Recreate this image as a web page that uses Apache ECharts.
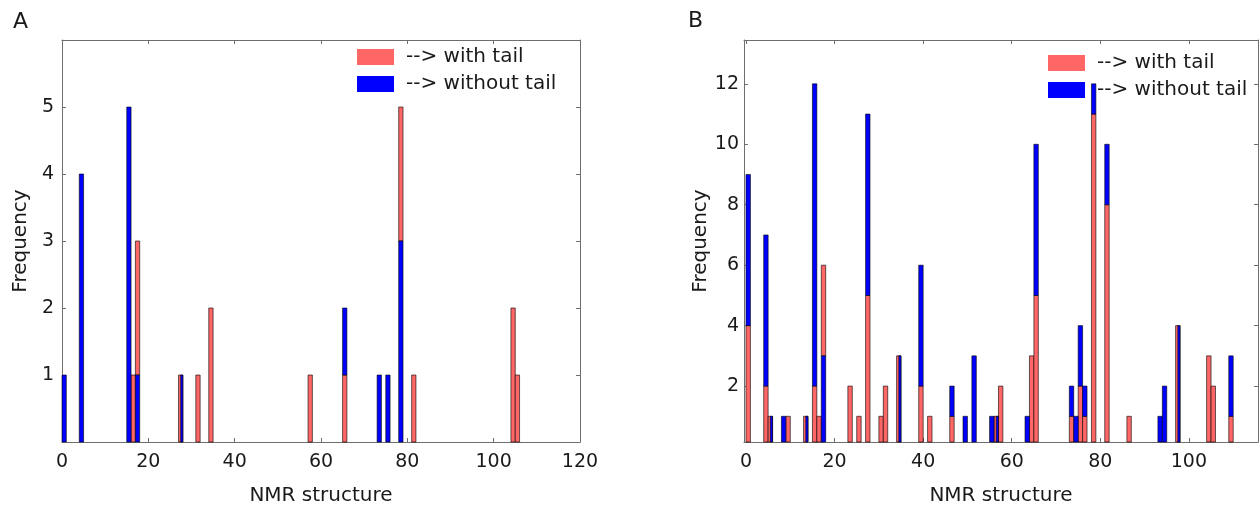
<!DOCTYPE html>
<html>
<head>
<meta charset="utf-8">
<script src="https://cdn.jsdelivr.net/npm/echarts@6/dist/echarts.min.js"></script>
<style>
  html, body { margin: 0; padding: 0; background: #fff; }
  #chart { width: 1260px; height: 506px; }
</style>
</head>
<body>
<div id="chart"></div>
<script>
// ---- Panel A: unit-wide bins (left edge) and counts ----
const binsA        = [0, 4, 15, 16, 17, 27, 31, 34, 57, 65, 73, 75, 78, 81, 104, 105];
const withTailA    = [0, 0, 0,  1,  2,  1,  1,  2,  1,  1,  0,  0,  2,  1,  2,   1];
const withoutTailA = [1, 4, 5,  0,  1,  1,  0,  0,  0,  1,  1,  1,  3,  0,  0,   0];
// how the two counts share a bin: 'rb' = with-tail below, 'br' = without-tail below,
// 'ov' = both drawn from zero, overlaid
const layoutA      = ['rb','rb','rb','rb','br','ov','rb','rb','rb','rb','rb','rb','br','rb','rb','rb'];

// ---- Panel B ----
const binsB        = [0, 4, 5, 8, 9, 13, 15, 16, 17, 23, 25, 27, 30, 31, 34, 39, 41, 46, 49, 51,
                      55, 56, 57, 63, 64, 65, 73, 74, 75, 76, 78, 81, 86, 93, 94, 97, 104, 105, 109];
const withTailB    = [4, 2, 1, 0, 1, 1,  2,  1,  3,  2,  1,  5,  1,  2,  3,  2,  1,  1,  0,  0,
                      0,  1,  2,  0,  3,  5,  1,  0,  2,  1, 11,  8,  1,  0,  0,  4,  3,   2,   1];
const withoutTailB = [5, 5, 1, 1, 0, 1, 10,  0,  3,  0,  0,  6,  0,  0,  3,  4,  0,  1,  1,  3,
                      1,  1,  0,  1,  0,  5,  1,  1,  2,  1,  1,  2,  0,  1,  2,  4,  0,   0,   2];
const layoutB      = ['rb','rb','ov','rb','rb','ov','rb','rb','br','rb','rb','rb','rb','rb','ov','rb','rb','rb','rb','rb',
                      'rb','ov','rb','rb','rb','rb','rb','rb','rb','rb','rb','rb','rb','rb','rb','ov','rb','rb','rb'];

// ---- tick values ----
const xTicksA = [0, 20, 40, 60, 80, 100, 120];
const yTicksA = [1, 2, 3, 4, 5];
const xTicksB = [0, 20, 40, 60, 80, 100];
const yTicksB = [2, 4, 6, 8, 10, 12];

const RED = '#ff6666';
const BLUE = '#0000ff';
const EDGE = 'rgba(0,0,0,0.6)';
const AXIS = '#6e6e6e';
const INK = '#1a1a1a';
const FONT = 'DejaVu Sans';

// Turn bin counts into rectangles [x0, x1, lo, hi, stripe] for each colour
function buildSegments(bins, red, blue, layout) {
  const r = [], b = [];
  bins.forEach(function (x, i) {
    const rv = red[i], bv = blue[i], mode = layout[i];
    if (mode === 'ov') {
      if (rv > 0) r.push([x, x + 1, 0, rv, 0]);
      if (bv > 0) b.push([x, x + 1, 0, bv, 1]);
    } else if (mode === 'br') {
      if (bv > 0) b.push([x, x + 1, 0, bv, 0]);
      if (rv > 0) r.push([x, x + 1, bv, bv + rv, 0]);
    } else {
      if (rv > 0) r.push([x, x + 1, 0, rv, 0]);
      if (bv > 0) b.push([x, x + 1, rv, rv + bv, 0]);
    }
  });
  return { red: r, blue: b };
}

const segA = buildSegments(binsA, withTailA, withoutTailA, layoutA);
const segB = buildSegments(binsB, withTailB, withoutTailB, layoutB);

function renderBar(color) {
  return function (params, api) {
    let x0 = api.value(0);
    const x1 = api.value(1);
    // overlaid bins show the second histogram in the right half of the bin
    if (api.value(4) === 1) x0 = x0 + (x1 - x0) * 0.5;
    const p0 = api.coord([x0, api.value(2)]);
    const p1 = api.coord([x1, api.value(3)]);
    const cs = params.coordSys;
    const shape = echarts.graphic.clipRectByRect(
      { x: p0[0], y: p1[1], width: p1[0] - p0[0], height: p0[1] - p1[1] },
      { x: cs.x, y: cs.y, width: cs.width, height: cs.height }
    );
    if (!shape) return null;
    return {
      type: 'rect',
      shape: shape,
      style: { fill: color, stroke: EDGE, lineWidth: 1 }
    };
  };
}

function barSeries(name, color, data, axisIdx) {
  return {
    type: 'custom',
    name: name,
    xAxisIndex: axisIdx,
    yAxisIndex: axisIdx,
    itemStyle: { color: color },
    encode: { x: [0, 1], y: [2, 3] },
    renderItem: renderBar(color),
    data: data,
    silent: true,
    animation: false
  };
}

function xAxisPair(grid, min, max, ticks) {
  const common = {
    gridIndex: grid, type: 'value', min: min, max: max,
    axisLine: { show: true, onZero: false, lineStyle: { color: AXIS, width: 1 } },
    axisTick: { show: true, inside: true, length: 4, customValues: ticks, lineStyle: { color: AXIS } },
    splitLine: { show: false }
  };
  return [
    Object.assign({}, common, {
      position: 'bottom',
      axisLabel: { customValues: ticks, fontSize: 19, margin: 11, color: INK, fontFamily: FONT },
      name: 'NMR structure', nameLocation: 'middle', nameGap: 44,
      nameTextStyle: { fontSize: 20, color: INK, fontFamily: FONT }
    }),
    Object.assign({}, common, { position: 'top', axisLabel: { show: false } })
  ];
}

function yAxisPair(grid, min, max, ticks, labelMargin, nameGap) {
  const common = {
    gridIndex: grid, type: 'value', min: min, max: max,
    axisLine: { show: true, onZero: false, lineStyle: { color: AXIS, width: 1 } },
    axisTick: { show: true, inside: true, length: 4, customValues: ticks, lineStyle: { color: AXIS } },
    splitLine: { show: false }
  };
  return [
    Object.assign({}, common, {
      position: 'left',
      axisLabel: { customValues: ticks, fontSize: 19, margin: labelMargin, color: INK, fontFamily: FONT },
      name: 'Frequency', nameLocation: 'middle', nameGap: nameGap, nameRotate: 90,
      nameTextStyle: { fontSize: 20, color: INK, fontFamily: FONT }
    }),
    Object.assign({}, common, { position: 'right', axisLabel: { show: false } })
  ];
}

function legendAt(left, top) {
  return {
    left: left, top: top, orient: 'vertical', icon: 'rect', padding: 0,
    itemWidth: 37, itemHeight: 16, itemGap: 7, selectedMode: false,
    formatter: function (n) { return '--> ' + n; },
    textStyle: { fontSize: 20, lineHeight: 20, color: INK, fontFamily: FONT, padding: [0, 0, 0, 7] },
    data: [
      { name: 'with tail', itemStyle: { color: RED, borderWidth: 0 } },
      { name: 'without tail', itemStyle: { color: BLUE, borderWidth: 0 } }
    ]
  };
}

const chart = echarts.init(document.getElementById('chart'), null, { renderer: 'canvas' });

chart.setOption({
  animation: false,
  backgroundColor: '#fff',
  grid: [
    { left: 62, top: 40, width: 518, height: 402, outerBoundsMode: 'none' },
    { left: 744, top: 40, width: 514, height: 402, outerBoundsMode: 'none' }
  ],
  xAxis: [].concat(
    xAxisPair(0, 0, 120, xTicksA),
    xAxisPair(1, -0.45, 115.6, xTicksB)
  ),
  yAxis: [].concat(
    yAxisPair(0, 0, 6, yTicksA, 8, 31),
    yAxisPair(1, 0.15, 13.45, yTicksB, 5, 33)
  ),
  legend: [legendAt(357, 47), legendAt(1048, 53)],
  graphic: [
    { type: 'text', left: 13, top: 11, style: { text: 'A', fontSize: 22, fill: INK, fontFamily: FONT } },
    { type: 'text', left: 688, top: 10, style: { text: 'B', fontSize: 22, fill: INK, fontFamily: FONT } }
  ],
  series: [
    barSeries('with tail', RED, segA.red, 0),
    barSeries('without tail', BLUE, segA.blue, 0),
    barSeries('with tail', RED, segB.red, 2),
    barSeries('without tail', BLUE, segB.blue, 2)
  ]
});
</script>
</body>
</html>
